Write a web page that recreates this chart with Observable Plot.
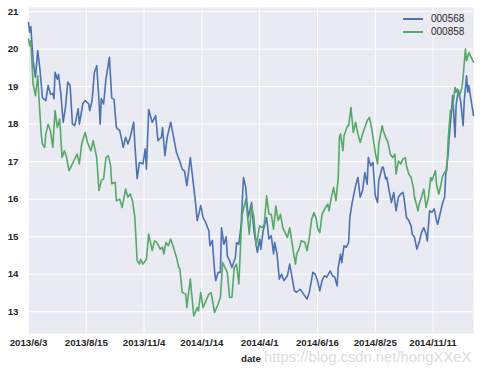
<!DOCTYPE html>
<html><head><meta charset="utf-8">
<script src="https://cdn.jsdelivr.net/npm/d3@7"></script>
<script src="https://cdn.jsdelivr.net/npm/@observablehq/plot@0.6"></script>
<style>
body{margin:0;background:#fff;}
#wrap{position:relative;width:480px;height:370px;font-family:"Liberation Sans",Arial,sans-serif;}
#legend{position:absolute;left:403px;top:12px;font-size:10px;color:#262626;line-height:13px;}
#legend div{display:flex;align-items:center;height:13px;}
#legend span.sw{display:inline-block;width:20px;height:2px;margin-right:8px;}
#wm{position:absolute;left:264px;top:349px;font-size:14.8px;color:#dcdcdc;white-space:nowrap;}
svg text{font-weight:bold;}
</style></head><body><div id="wrap"></div>
<script>
const seriesNames = ["000568", "000858"];
const seriesColors = ["#4C72B0", "#55A868"];
const tickIdx = [0, 50, 100, 150, 200, 250, 300, 350];
const tickLabels = ["2013/6/3","2013/8/15","2013/11/4","2014/1/14","2014/4/1","2014/6/16","2014/8/25","2014/11/11"];
const yTicks = [13, 14, 15, 16, 17, 18, 19, 20, 21];

// [trading-day index, close]
const s000568 = [[0,20.71],[1,20.45],[2,20.6],[4,19.7],[6,19.25],[8,19.96],[10,19.43],[12,18.71],[15,18.63],[17,19.03],[19,18.8],[21,18.82],[22,18.68],[23,19.38],[25,19.2],[26,19.33],[28,18.8],[30,18.05],[32,18.45],[34,19.12],[36,19.03],[38,18.0],[40,17.96],[43,18.41],[44,18.0],[47,18.54],[49,18.63],[52,18.54],[53,18.36],[55,18.63],[57,19.38],[59,19.56],[61,18.63],[62,18.0],[63,18.68],[65,18.54],[67,19.2],[70,19.78],[72,18.7],[74,18.66],[76,17.91],[79,17.82],[82,17.38],[84,17.65],[86,17.47],[88,17.65],[91,18.05],[92,17.47],[94,16.55],[96,16.98],[99,16.94],[101,17.34],[102,16.8],[104,18.39],[107,18.05],[110,18.23],[112,17.56],[115,17.65],[116,17.91],[118,17.16],[120,17.65],[123,18.05],[125,17.74],[128,17.25],[131,17.0],[133,16.8],[135,16.75],[137,16.36],[140,17.11],[142,16.58],[144,16.05],[146,15.43],[149,15.83],[151,15.51],[153,15.4],[156,15.16],[157,14.76],[159,14.9],[161,14.09],[162,13.83],[164,14.05],[166,14.05],[167,15.24],[169,14.8],[171,15.0],[172,14.49],[174,14.36],[176,14.18],[179,14.45],[180,14.84],[182,14.8],[184,15.33],[186,16.58],[188,16.31],[190,15.51],[193,15.91],[195,15.16],[198,14.58],[200,14.94],[201,14.67],[203,15.16],[206,15.51],[208,14.94],[210,15.03],[212,14.54],[213,14.85],[215,14.54],[217,13.87],[219,14.0],[221,13.83],[224,13.96],[226,14.27],[228,13.92],[230,13.56],[232,13.52],[235,13.6],[238,13.47],[241,13.34],[243,13.52],[246,14.05],[248,14.0],[250,13.83],[252,13.56],[254,13.83],[256,13.96],[258,13.92],[261,14.09],[263,13.96],[265,13.92],[267,13.69],[268,14.18],[270,14.54],[271,14.31],[273,14.76],[275,14.72],[277,14.85],[278,15.51],[280,15.91],[281,16.05],[283,16.36],[285,16.58],[287,16.05],[289,16.23],[291,16.71],[293,16.4],[294,17.11],[296,16.89],[298,16.98],[300,16.1],[302,15.91],[303,16.49],[306,16.85],[307,16.85],[309,16.54],[310,16.58],[312,16.23],[314,15.91],[316,16.18],[318,15.69],[320,16.05],[322,16.14],[324,16.18],[325,16.0],[327,15.51],[329,15.43],[331,15.29],[332,15.07],[334,14.98],[336,14.67],[338,14.85],[340,15.11],[342,15.24],[344,15.07],[345,14.89],[347,15.69],[349,15.65],[351,15.74],[353,15.43],[354,15.33],[356,15.6],[358,15.87],[360,16.05],[361,16.67],[363,17.2],[364,17.65],[366,18.36],[367,18.76],[369,17.65],[370,18.54],[372,18.9],[374,18.58],[376,17.96],[377,18.63],[379,19.29],[380,18.85],[381,19.03],[383,18.63],[385,18.23]];

const s000858 = [[0,20.27],[1,20.09],[2,20.22],[4,19.07],[6,18.76],[8,19.29],[9,18.71],[11,17.74],[12,17.47],[14,17.38],[15,17.74],[17,18.0],[19,17.82],[21,17.38],[23,18.36],[25,17.91],[27,18.14],[29,17.11],[31,17.29],[33,17.11],[35,16.76],[38,16.94],[40,17.07],[42,17.2],[44,16.94],[46,17.47],[49,17.78],[51,17.52],[54,17.29],[56,17.56],[59,17.11],[61,16.23],[63,16.5],[65,16.54],[67,17.11],[69,17.16],[71,16.9],[72,16.41],[75,16.45],[76,15.96],[79,16.0],[81,15.78],[84,16.27],[86,16.05],[88,16.14],[90,15.96],[92,15.51],[94,14.36],[96,14.27],[97,14.4],[99,14.27],[102,14.4],[104,15.07],[107,14.63],[109,14.89],[111,14.85],[114,14.67],[116,14.72],[117,14.54],[119,14.85],[121,14.76],[123,14.94],[125,14.76],[128,14.45],[130,14.18],[131,14.14],[133,13.51],[136,13.47],[137,13.11],[140,13.87],[142,13.2],[143,12.89],[146,13.11],[147,13.02],[149,13.51],[151,13.11],[154,13.33],[156,13.47],[158,13.51],[161,12.98],[164,13.2],[166,13.38],[168,14.31],[170,14.18],[172,14.05],[174,13.38],[176,13.38],[178,14.18],[180,14.27],[182,13.74],[184,15.16],[185,15.6],[188,16.0],[191,15.07],[193,15.82],[195,15.51],[197,14.76],[200,15.29],[202,15.24],[204,15.33],[206,16.09],[208,15.6],[210,15.6],[212,15.2],[214,15.82],[216,15.43],[218,15.6],[220,15.24],[222,15.11],[224,14.98],[226,15.24],[228,14.85],[229,14.63],[231,14.27],[232,14.54],[234,14.67],[236,14.89],[239,14.85],[241,14.63],[243,14.98],[245,15.47],[247,15.64],[249,15.47],[250,15.24],[252,15.11],[254,15.6],[257,15.78],[259,15.87],[260,15.69],[262,16.05],[264,16.31],[266,15.96],[268,16.58],[269,17.65],[270,17.74],[272,17.29],[273,17.69],[276,17.96],[277,17.96],[279,18.44],[281,17.78],[283,18.05],[285,17.74],[287,17.51],[289,17.74],[291,17.91],[293,18.09],[295,18.18],[297,17.87],[300,17.25],[302,16.94],[303,17.47],[306,17.96],[307,17.82],[309,17.65],[311,17.52],[313,17.2],[315,17.11],[317,17.2],[318,16.67],[320,17.02],[322,16.94],[324,17.07],[326,17.11],[327,16.89],[329,16.67],[331,16.58],[333,16.31],[334,16.05],[337,15.69],[338,15.87],[340,16.05],[342,16.27],[344,15.78],[346,16.05],[348,16.58],[349,16.49],[352,16.76],[353,16.4],[355,16.14],[356,16.27],[358,16.58],[360,16.72],[362,16.76],[363,17.56],[365,18.36],[367,18.44],[369,18.98],[370,18.85],[371,18.94],[373,18.76],[375,18.98],[376,19.25],[378,20.0],[379,19.69],[381,19.91],[383,19.78],[385,19.65]];

const rows = [
  ...s000568.map(([i, v]) => ({i, v, series: seriesNames[0]})),
  ...s000858.map(([i, v]) => ({i, v, series: seriesNames[1]}))
];

const chart = Plot.plot({
  width: 480, height: 370,
  marginLeft: 28, marginRight: 7, marginTop: 7, marginBottom: 37,
  style: {background: "#fff", fontFamily: "'Liberation Sans', Arial, sans-serif", fontSize: "9.7px", color: "#262626"},
  x: {domain: [0, 385]},
  y: {domain: [12.42, 21.11]},
  color: {domain: seriesNames, range: seriesColors},
  marks: [
    Plot.frame({fill: "#EAEAF2", stroke: null}),
    Plot.gridX(tickIdx, {stroke: "#fff", strokeOpacity: 1, strokeWidth: 1}),
    Plot.gridY(yTicks, {stroke: "#fff", strokeOpacity: 1, strokeWidth: 1}),
    Plot.axisX(tickIdx, {tickSize: 0, tickPadding: 6, tickFormat: d => tickLabels[tickIdx.indexOf(d)], label: "date", labelAnchor: "center", labelArrow: "none", labelOffset: 28}),
    Plot.axisY(yTicks, {tickSize: 0, tickPadding: 10, label: null}),
    Plot.line(rows, {x: "i", y: "v", z: "series", stroke: "series", strokeWidth: 1.6})
  ]
});
const wrap = document.getElementById("wrap");
wrap.appendChild(chart);

const lg = document.createElement("div");
lg.id = "legend";
seriesNames.forEach((n, k) => {
  const row = document.createElement("div");
  const sw = document.createElement("span");
  sw.className = "sw";
  sw.style.background = seriesColors[k];
  row.appendChild(sw);
  row.appendChild(document.createTextNode(n));
  lg.appendChild(row);
});
wrap.appendChild(lg);

const wm = document.createElement("div");
wm.id = "wm";
wm.textContent = "https://blog.csdn.net/hongXXeX";
wrap.appendChild(wm);
</script>
</body></html>
